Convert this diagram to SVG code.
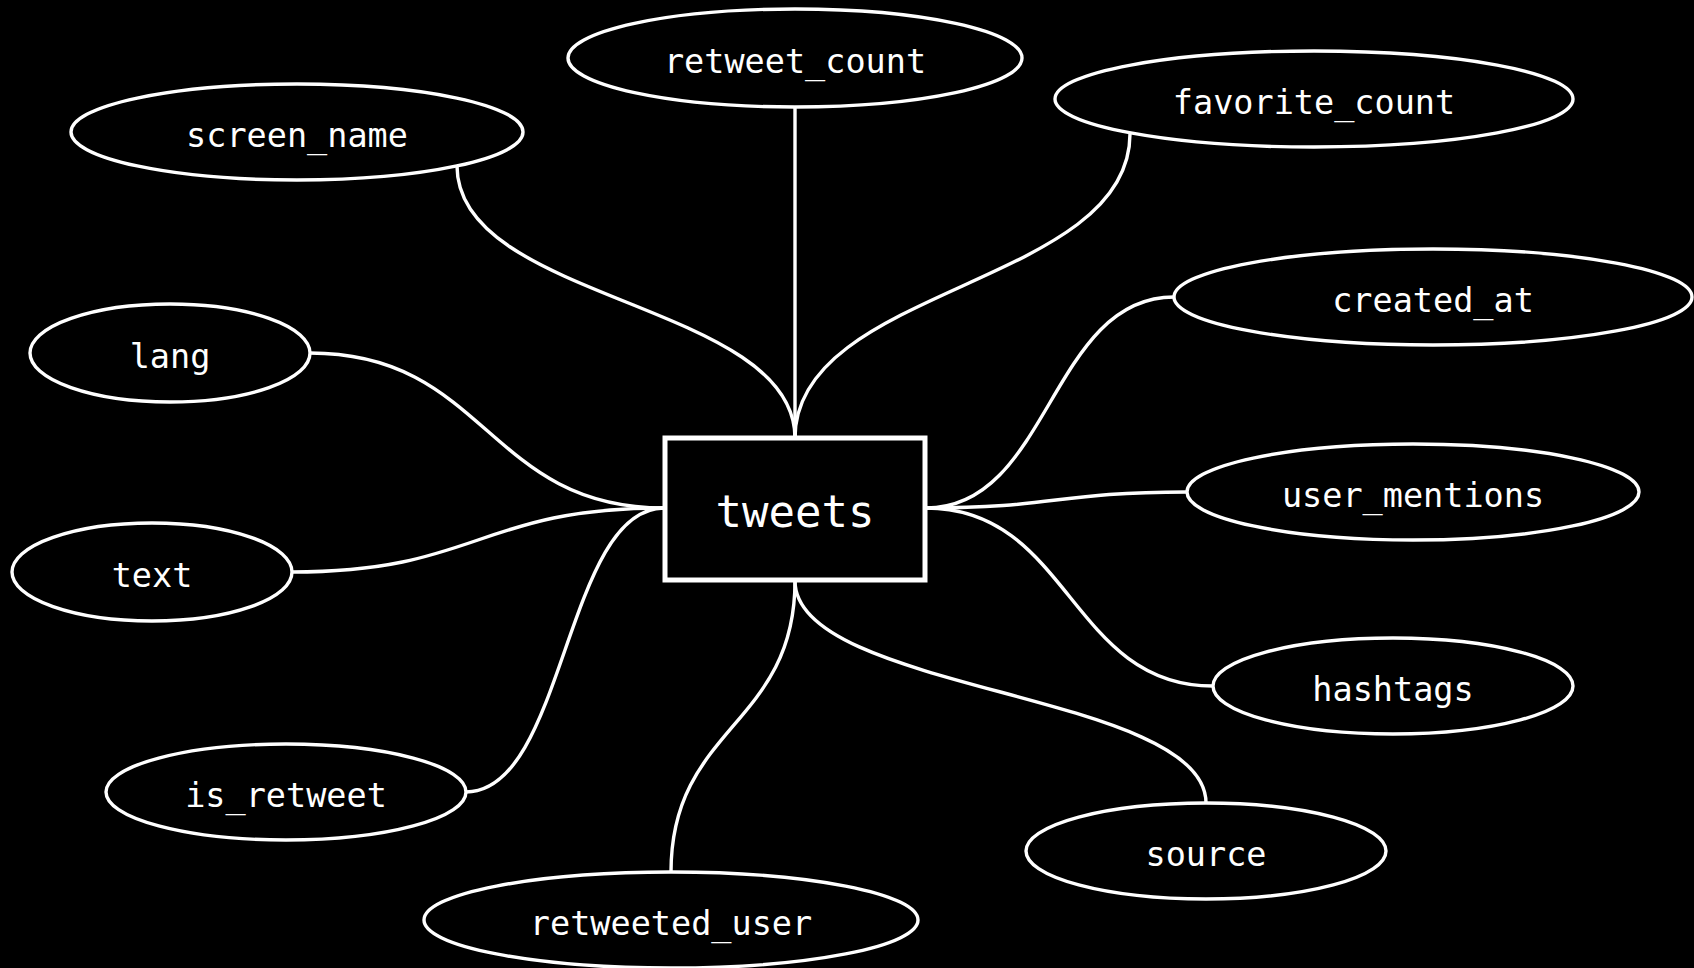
<svg xmlns="http://www.w3.org/2000/svg" width="1694" height="968" viewBox="0 0 1694 968">
<style>
.attr ellipse{fill:#000;stroke:#fff;stroke-width:3.4}
.attr text{fill:#fff;font-family:"DejaVu Sans Mono","Liberation Mono",monospace;font-size:33.5px;text-anchor:middle}
#connectors path{fill:none;stroke:#fff;stroke-width:3.4}
</style>
<rect width="1694" height="968" fill="#000"/>
<g id="connectors">
<path d="M795,107 L795,438"/>
<path d="M457,166 C457,302 795,302 795,438"/>
<path d="M1130,134 C1130,286 795,286 795,438"/>
<path d="M926,508 C1050,508 1050,297 1174,297"/>
<path d="M926,508 C1056,508 1056,492 1187,492"/>
<path d="M926,508 C1070,508 1070,686 1213,686"/>
<path d="M795,581 C795,692 1206,692 1206,803"/>
<path d="M795,581 C795,726 671,726 671,872"/>
<path d="M466,792 C565,792 565,508 664,508"/>
<path d="M292,572 C478,572 478,508 664,508"/>
<path d="M310,353 C487,353 487,508 664,508"/>
</g>
<g id="tweets">
<rect x="665" y="438" width="260" height="142" fill="#000" stroke="#fff" stroke-width="5"/>
<text x="795" y="527" fill="#fff" font-family="DejaVu Sans Mono, Liberation Mono, monospace" font-size="44" text-anchor="middle">tweets</text>
</g>
<g id="retweet_count" class="attr"><ellipse cx="795" cy="58" rx="227" ry="49"/><text x="795" y="73">retweet_count</text></g>
<g id="screen_name" class="attr"><ellipse cx="297" cy="132" rx="226" ry="48"/><text x="297" y="147">screen_name</text></g>
<g id="favorite_count" class="attr"><ellipse cx="1314" cy="99" rx="259" ry="48"/><text x="1314" y="114">favorite_count</text></g>
<g id="created_at" class="attr"><ellipse cx="1433" cy="297" rx="259" ry="48"/><text x="1433" y="312">created_at</text></g>
<g id="user_mentions" class="attr"><ellipse cx="1413" cy="492" rx="226" ry="48"/><text x="1413" y="507">user_mentions</text></g>
<g id="hashtags" class="attr"><ellipse cx="1393" cy="686" rx="180" ry="48"/><text x="1393" y="701">hashtags</text></g>
<g id="source" class="attr"><ellipse cx="1206" cy="851" rx="180" ry="48"/><text x="1206" y="866">source</text></g>
<g id="retweeted_user" class="attr"><ellipse cx="671" cy="920" rx="247" ry="48"/><text x="671" y="935">retweeted_user</text></g>
<g id="is_retweet" class="attr"><ellipse cx="286" cy="792" rx="180" ry="48"/><text x="286" y="807">is_retweet</text></g>
<g id="text" class="attr"><ellipse cx="152" cy="572" rx="140" ry="49"/><text x="152" y="587">text</text></g>
<g id="lang" class="attr"><ellipse cx="170" cy="353" rx="140" ry="49"/><text x="170" y="368">lang</text></g>
</svg>
